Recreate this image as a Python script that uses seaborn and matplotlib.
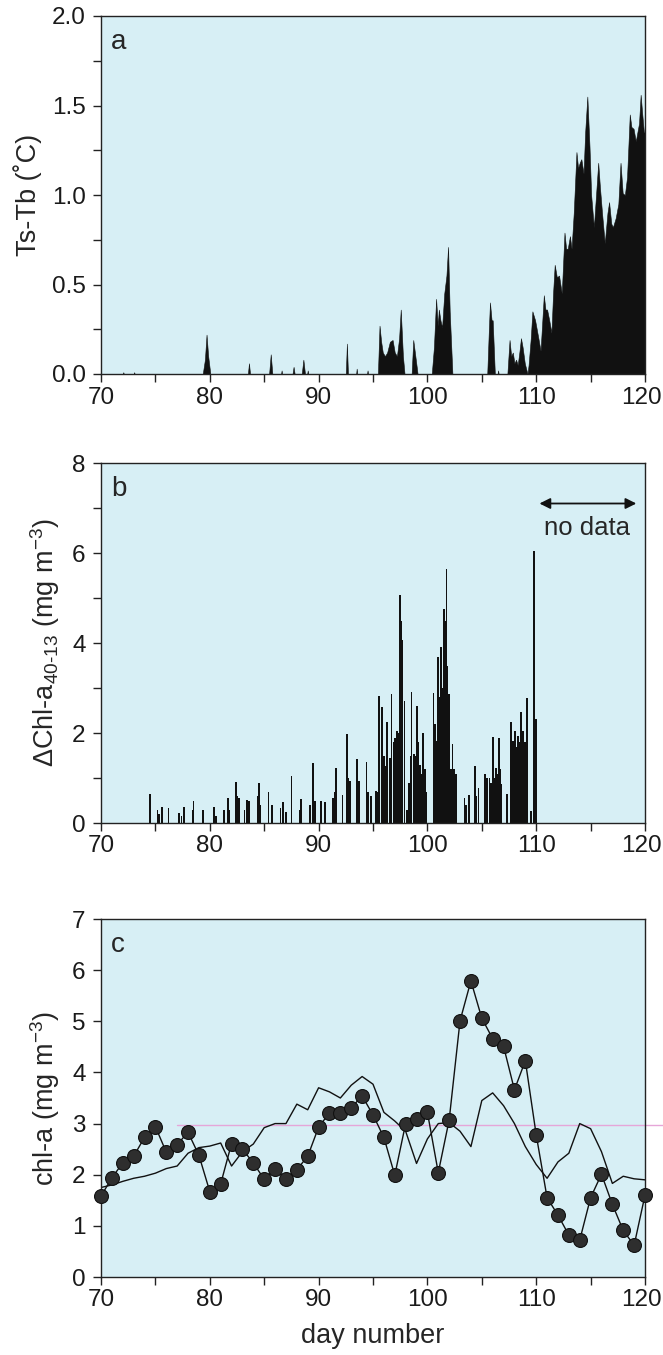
import matplotlib
matplotlib.use("Agg")
import matplotlib.pyplot as plt
from matplotlib.ticker import MultipleLocator, FormatStrFormatter
from matplotlib.transforms import ScaledTranslation
import seaborn as sns
import pandas as pd

# ---------------- data ----------------
# panel a: Ts-Tb (deg C), outline of the filled record
ts_day = [70.0, 72.0, 72.05, 72.1, 73.0, 73.05, 73.1,
          79.35, 79.55, 79.7, 79.85, 80.05,
          83.5, 83.6, 83.7, 85.45, 85.6, 85.75, 86.55, 86.6, 86.65,
          87.6, 87.7, 87.8, 88.45, 88.6, 88.75, 88.95, 89.0, 89.05,
          92.5, 92.6, 92.7, 93.45, 93.5, 93.55, 94.45, 94.5, 94.55,
          95.45, 95.6, 95.75, 95.9, 96.1, 96.3, 96.55, 96.8, 97.0, 97.2, 97.4, 97.55, 97.75, 97.9,
          98.55, 98.7, 98.85, 99.1,
          100.4, 100.6, 100.8, 100.95, 101.05, 101.2, 101.35, 101.55, 101.75, 101.9, 102.05, 102.3,
          105.5, 105.65, 105.75, 105.9, 106.0, 106.2, 106.45, 106.5, 106.55,
          107.35, 107.55, 107.7, 107.85, 108.0, 108.15, 108.3, 108.45, 108.6, 108.75, 108.95, 109.2,
          109.3, 109.5, 109.65, 109.9, 110.2, 110.4, 110.7, 110.85, 111.0, 111.2, 111.4, 111.55,
          111.7, 111.9, 112.1, 112.35, 112.6, 112.75, 112.9, 113.1, 113.25, 113.45, 113.7, 113.85,
          114.0, 114.15, 114.35, 114.5, 114.7, 114.9, 115.05, 115.3, 115.5, 115.7, 115.85, 116.05,
          116.3, 116.55, 116.7, 116.9, 117.05, 117.3, 117.55, 117.75, 117.95, 118.15, 118.35, 118.6,
          118.75, 118.95, 119.15, 119.3, 119.45, 119.6, 119.75, 119.9, 120.0]
ts_diff = [0.0, 0.0, 0.01, 0.0, 0.0, 0.01, 0.0,
           0.0, 0.08, 0.22, 0.10, 0.0,
           0.0, 0.06, 0.0, 0.0, 0.11, 0.0, 0.0, 0.02, 0.0,
           0.0, 0.04, 0.0, 0.0, 0.08, 0.0, 0.0, 0.02, 0.0,
           0.0, 0.17, 0.0, 0.0, 0.03, 0.0, 0.0, 0.02, 0.0,
           0.0, 0.27, 0.18, 0.12, 0.10, 0.12, 0.18, 0.19, 0.12, 0.10, 0.20, 0.36, 0.10, 0.0,
           0.0, 0.19, 0.12, 0.0,
           0.0, 0.15, 0.42, 0.27, 0.36, 0.30, 0.26, 0.45, 0.55, 0.71, 0.35, 0.0,
           0.0, 0.25, 0.40, 0.30, 0.30, 0.0, 0.0, 0.02, 0.0,
           0.0, 0.19, 0.10, 0.12, 0.06, 0.08, 0.05, 0.12, 0.20, 0.15, 0.06, 0.0,
           0.05, 0.20, 0.35, 0.30, 0.20, 0.13, 0.44, 0.36, 0.36, 0.30, 0.23, 0.45,
           0.61, 0.54, 0.55, 0.45, 0.79, 0.70, 0.70, 0.77, 0.70, 0.90, 1.24, 1.15,
           1.18, 1.20, 1.12, 1.35, 1.55, 1.27, 1.00, 0.82, 1.00, 1.18, 1.05, 0.90,
           0.73, 0.90, 0.96, 0.84, 0.82, 0.87, 0.95, 1.18, 1.01, 1.00, 1.10, 1.45,
           1.38, 1.37, 1.30, 1.35, 1.40, 1.56, 1.45, 1.35, 1.35]

# panel b: delta Chl-a 40-13 (mg m-3) spikes
dchl_day = [74.45, 74.5, 75.2, 75.35, 75.6, 76.2, 77.2, 77.4, 77.65, 78.4, 78.5, 79.4,
            80.4, 80.55, 81.3, 81.65, 81.8,
            82.4, 82.55, 82.7, 83.2, 83.4, 83.6, 84.4, 84.5, 84.65, 85.4, 85.7, 86.5, 86.7,
            87.0, 87.5, 88.3, 88.4, 89.2, 89.5, 89.65,
            90.2, 90.6, 91.3, 91.45, 91.6, 92.2, 92.6, 92.75, 92.9, 93.5, 93.7, 94.4, 94.55, 94.8,
            95.3, 95.4, 95.55, 95.8, 96.0, 96.1, 96.3, 96.55, 96.7, 96.9, 97.0, 97.1, 97.2,
            97.35, 97.5, 97.6, 97.7, 97.9, 98.1, 98.3, 98.45, 98.55, 98.8, 98.95, 99.05,
            99.15, 99.3, 99.45, 99.6, 99.75, 99.9,
            100.55, 100.7, 100.8, 100.9, 101.0, 101.1, 101.25, 101.4, 101.5, 101.65,
            101.75, 101.85, 102.0, 102.15, 102.3, 102.45, 102.6,
            103.4, 103.55, 103.8, 104.35, 104.5, 104.7, 105.3, 105.5, 105.7, 105.85, 106.0, 106.15,
            106.3, 106.45, 106.55, 106.65, 106.8, 107.3, 107.65, 107.75, 107.85,
            107.95, 108.05, 108.2, 108.35, 108.5, 108.6, 108.8, 108.95, 109.15,
            109.5, 109.8, 110.0]
dchl_val = [0.30, 0.65, 0.30, 0.20, 0.35, 0.34, 0.22, 0.15, 0.35, 0.30, 0.50, 0.30,
            0.35, 0.15, 0.28, 0.56, 0.30,
            0.92, 0.60, 0.56, 0.30, 0.52, 0.50, 0.60, 0.88, 0.40, 0.69, 0.41, 0.34, 0.47,
            0.25, 1.05, 0.30, 0.54, 0.39, 1.34, 0.50,
            0.50, 0.46, 0.56, 0.70, 1.22, 0.63, 1.98, 1.00, 0.93, 1.43, 0.93, 1.36, 0.70, 0.60,
            0.72, 0.70, 2.83, 2.57, 1.50, 1.27, 2.24, 1.45, 2.86, 1.80, 1.90, 1.70, 2.05,
            2.00, 5.07, 4.50, 4.06, 2.72, 0.30, 0.90, 1.50, 2.92, 1.53, 1.50, 2.59,
            1.80, 1.30, 1.10, 2.00, 1.20, 0.70,
            2.89, 2.20, 1.83, 1.60, 3.68, 2.80, 3.91, 3.00, 4.75, 4.50,
            5.65, 3.50, 2.87, 1.20, 1.75, 1.20, 1.08,
            0.56, 0.40, 0.62, 1.27, 0.60, 0.78, 1.08, 1.00, 1.00, 0.90, 1.92, 1.00,
            1.23, 1.10, 1.88, 1.20, 0.86, 0.65, 2.25, 1.20, 1.83,
            1.60, 2.05, 1.70, 1.94, 1.80, 2.46, 2.05, 1.80, 2.78,
            0.26, 6.04, 2.31]

# panel c: chl-a (mg m-3), daily
chl_day = list(range(70, 121))
chl_dots = [1.58, 1.94, 2.23, 2.36, 2.73, 2.94, 2.44, 2.59, 2.83, 2.38,
            1.67, 1.82, 2.61, 2.50, 2.23, 1.91, 2.12, 1.91, 2.10, 2.36,
            2.93, 3.21, 3.21, 3.31, 3.54, 3.17, 2.73, 1.99, 3.00, 3.08,
            3.22, 2.04, 3.07, 5.01, 5.79, 5.06, 4.66, 4.51, 3.66, 4.23,
            2.78, 1.55, 1.21, 0.82, 0.72, 1.55, 2.01, 1.42, 0.91, 0.62,
            1.60]
chl_line = [1.75, 1.80, 1.87, 1.93, 1.97, 2.03, 2.12, 2.17, 2.42, 2.53,
            2.56, 2.62, 2.17, 2.45, 2.60, 2.92, 3.00, 3.00, 3.38, 3.27,
            3.70, 3.62, 3.50, 3.75, 3.92, 3.77, 3.22, 3.05, 2.85, 2.22,
            2.70, 3.00, 3.02, 2.85, 2.55, 3.45, 3.60, 3.35, 3.00, 2.55,
            2.20, 1.93, 2.25, 2.42, 3.00, 2.90, 2.45, 1.83, 1.97, 1.92,
            1.90]

x_ticks = [70, 80, 90, 100, 110, 120]

# ---------------- style ----------------
sns.set_style("ticks")
plt.rcParams['font.family'] = ['Liberation Sans', 'DejaVu Sans']
plt.rcParams['mathtext.fontset'] = 'custom'
plt.rcParams['mathtext.rm'] = 'Liberation Sans'
plt.rcParams['mathtext.it'] = 'Liberation Sans'
plt.rcParams['mathtext.default'] = 'regular'

BG = '#d7eff5'
TICK_FS = 17.5
LAB_FS = 19.5
LETTER_FS = 20

fig = plt.figure(figsize=(6.63, 13.55), dpi=100)
left, width = 101 / 663, 544 / 663
ax_a = fig.add_axes([left, 1 - 374 / 1355, width, 358 / 1355])
ax_b = fig.add_axes([left, 1 - 823 / 1355, width, 360 / 1355])
ax_c = fig.add_axes([left, 1 - 1277 / 1355, width, 358 / 1355])


def style(ax):
    ax.set_facecolor(BG)
    for s in ax.spines.values():
        s.set_visible(True)
        s.set_color('#222222')
        s.set_linewidth(1.0)
    ax.set_xlim(70, 120)
    ax.set_xticks(x_ticks)
    ax.xaxis.set_minor_locator(MultipleLocator(5))
    ax.tick_params(which='both', direction='out', color='#222222', width=1.0,
                   labelsize=TICK_FS, labelcolor='#1a1a1a')
    ax.tick_params(axis='y', which='both', pad=5)
    ax.tick_params(axis='x', which='both', pad=3)
    ax.tick_params(which='major', length=6)
    ax.tick_params(which='minor', length=6)
    ax.set_xlabel('')


def shift_last_xlabel(ax):
    fig.canvas.draw()
    labs = ax.get_xticklabels()
    if labs:
        lab = labs[-1]
        lab.set_transform(lab.get_transform() + ScaledTranslation(-4 / 100, 0, fig.dpi_scale_trans))


# panel a
style(ax_a)
ax_a.fill_between(ts_day, 0, ts_diff, color='#111111', lw=0.4, edgecolor='#111111')
ax_a.set_ylim(0, 2.0)
ax_a.yaxis.set_major_locator(MultipleLocator(0.5))
ax_a.yaxis.set_minor_locator(MultipleLocator(0.25))
ax_a.yaxis.set_major_formatter(FormatStrFormatter('%.1f'))
ax_a.set_ylabel('Ts-Tb (˚C)', fontsize=LAB_FS, labelpad=7)
ax_a.text(0.018, 0.965, 'a', transform=ax_a.transAxes, fontsize=LETTER_FS, va='top', ha='left')

# panel b
style(ax_b)
ax_b.bar(dchl_day, dchl_val, width=0.16, color='#111111', linewidth=0)
ax_b.set_ylim(0, 8)
ax_b.yaxis.set_major_locator(MultipleLocator(2))
ax_b.yaxis.set_minor_locator(MultipleLocator(1))
ax_b.set_ylabel('ΔChl-a$_{40\\text{-}13}$ (mg m$^{-3}$)', fontsize=LAB_FS, labelpad=7)
ax_b.text(0.018, 0.965, 'b', transform=ax_b.transAxes, fontsize=LETTER_FS, va='top', ha='left')
ax_b.annotate('', xy=(119.2, 7.1), xytext=(110.3, 7.1),
              arrowprops=dict(arrowstyle='<|-|>', color='#111111', lw=1.3,
                              mutation_scale=16, shrinkA=0, shrinkB=0))
ax_b.text(114.7, 6.55, 'no data', fontsize=18.5, ha='center', va='center')

# panel c
style(ax_c)
df_c = pd.DataFrame({'day': chl_day, 'dots': chl_dots, 'line': chl_line})
ax_c.plot([77, 121.7], [2.97, 2.97], color='#e6a6d8', lw=1.0, clip_on=False, zorder=1)
sns.lineplot(data=df_c, x='day', y='line', ax=ax_c, color='#111111', lw=1.0, zorder=2)
sns.lineplot(data=df_c, x='day', y='dots', ax=ax_c, color='#111111', lw=1.0,
             marker='o', markersize=10, markerfacecolor='#2e2e2e',
             markeredgecolor='#111111', markeredgewidth=0.8, zorder=3, clip_on=False)
ax_c.set_xlim(70, 120)
ax_c.set_ylim(0, 7)
ax_c.yaxis.set_major_locator(MultipleLocator(1))
ax_c.set_ylabel('chl-a (mg m$^{-3}$)', fontsize=LAB_FS, labelpad=7)
ax_c.set_xlabel('day number', fontsize=LAB_FS, labelpad=8)
ax_c.text(0.018, 0.965, 'c', transform=ax_c.transAxes, fontsize=LETTER_FS, va='top', ha='left')

for ax in (ax_a, ax_b, ax_c):
    shift_last_xlabel(ax)

fig.savefig('out.png', dpi=100)
